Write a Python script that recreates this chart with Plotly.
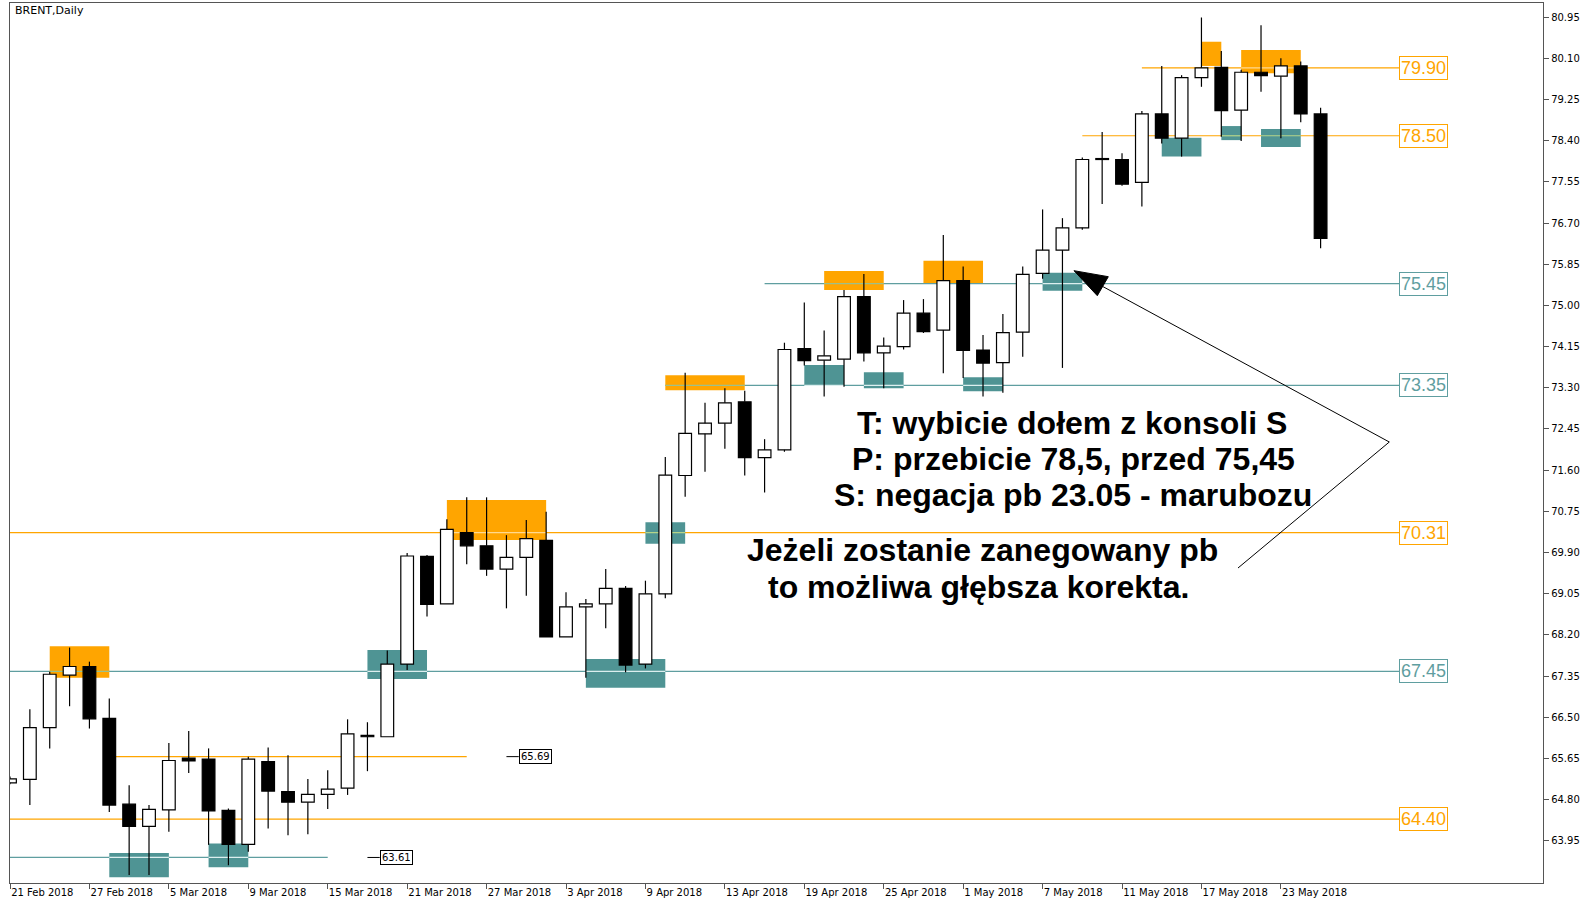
import plotly.graph_objects as go
from datetime import datetime

# ---------------- data ----------------
dates = [
    "2018-02-21", "2018-02-22", "2018-02-23", "2018-02-26", "2018-02-27", "2018-02-28",
    "2018-03-01", "2018-03-02", "2018-03-05", "2018-03-06", "2018-03-07", "2018-03-08",
    "2018-03-09", "2018-03-12", "2018-03-13", "2018-03-14", "2018-03-15", "2018-03-16",
    "2018-03-19", "2018-03-20", "2018-03-21", "2018-03-22", "2018-03-23", "2018-03-26",
    "2018-03-27", "2018-03-28", "2018-03-29", "2018-04-02", "2018-04-03", "2018-04-04",
    "2018-04-05", "2018-04-06", "2018-04-09", "2018-04-10", "2018-04-11", "2018-04-12",
    "2018-04-13", "2018-04-16", "2018-04-17", "2018-04-18", "2018-04-19", "2018-04-20",
    "2018-04-23", "2018-04-24", "2018-04-25", "2018-04-26", "2018-04-27", "2018-04-30",
    "2018-05-01", "2018-05-02", "2018-05-03", "2018-05-04", "2018-05-07", "2018-05-08",
    "2018-05-09", "2018-05-10", "2018-05-11", "2018-05-14", "2018-05-15", "2018-05-16",
    "2018-05-17", "2018-05-18", "2018-05-21", "2018-05-22", "2018-05-23", "2018-05-24",
    "2018-05-25",
]
opens = [
    65.15, 65.22, 66.29, 67.37, 67.55, 66.48, 64.71, 64.25, 64.59, 65.66, 65.64, 64.58,
    63.88, 65.59, 64.97, 64.75, 64.91, 65.04, 66.13, 66.10, 67.60, 69.82, 68.84, 70.31,
    70.04, 69.56, 69.80, 70.15, 68.16, 68.78, 68.84, 69.16, 67.60, 69.05, 71.49, 72.35,
    72.57, 73.01, 71.86, 72.02, 74.11, 73.87, 73.89, 75.18, 74.02, 74.15, 74.84, 74.49,
    75.51, 74.08, 73.82, 74.45, 75.66, 76.14, 76.60, 78.01, 78.01, 77.54, 78.95, 78.45,
    79.70, 79.91, 79.03, 79.81, 79.73, 79.94, 78.95,
]
highs = [
    65.28, 66.67, 67.44, 67.94, 67.65, 66.89, 65.10, 64.69, 65.97, 66.22, 65.86, 64.62,
    65.69, 65.88, 65.72, 65.23, 65.41, 66.46, 66.40, 67.88, 69.89, 69.85, 70.59, 71.04,
    71.04, 70.26, 70.57, 70.74, 69.08, 68.94, 69.56, 69.21, 69.32, 71.87, 73.61, 72.99,
    73.29, 73.24, 72.24, 74.23, 75.06, 74.48, 75.32, 75.65, 74.34, 75.11, 75.13, 76.45,
    75.80, 74.39, 74.82, 75.80, 76.98, 76.80, 78.05, 78.58, 78.14, 79.01, 79.94, 79.75,
    80.94, 80.25, 79.86, 80.78, 80.10, 80.03, 79.08,
]
lows = [
    65.12, 64.69, 65.86, 66.73, 66.27, 64.55, 63.25, 63.25, 64.14, 65.35, 63.87, 63.45,
    63.73, 64.21, 64.07, 64.09, 64.61, 64.90, 65.39, 66.10, 67.48, 68.58, 68.84, 69.66,
    69.42, 68.75, 69.01, 68.16, 68.16, 67.32, 68.34, 67.43, 67.51, 68.96, 71.05, 71.57,
    72.04, 71.49, 71.14, 71.98, 73.76, 73.12, 73.32, 73.84, 73.29, 74.09, 74.43, 73.60,
    73.50, 73.12, 73.20, 73.94, 75.55, 73.71, 76.56, 77.09, 77.47, 77.04, 78.34, 78.07,
    79.51, 78.48, 78.39, 79.41, 78.45, 78.78, 76.18,
]
closes = [
    65.23, 66.29, 67.39, 67.55, 66.47, 64.69, 64.25, 64.60, 65.61, 65.60, 64.57, 63.88,
    65.64, 64.98, 64.75, 64.91, 65.02, 66.16, 66.10, 67.60, 69.83, 68.83, 70.38, 70.04,
    69.56, 69.80, 70.19, 68.16, 68.78, 68.84, 69.16, 67.58, 69.05, 71.50, 72.36, 72.57,
    72.99, 71.86, 72.02, 74.09, 73.86, 73.96, 75.18, 74.02, 74.16, 74.84, 74.46, 75.51,
    74.07, 73.81, 74.44, 75.64, 76.14, 76.60, 78.01, 78.03, 77.50, 78.95, 78.45, 79.70,
    79.90, 79.02, 79.81, 79.74, 79.94, 78.95, 76.38,
]

# supply (R, orange) / demand (S, teal) zones
zone_kind = ["R", "R", "R", "R", "R", "R", "R",
             "S", "S", "S", "S", "S", "S", "S", "S", "S", "S", "S", "S"]
zone_start = ["2018-02-23", "2018-03-23", "2018-04-10", "2018-04-20", "2018-04-27", "2018-05-17", "2018-05-21",
              "2018-02-28", "2018-03-07", "2018-03-19", "2018-04-04", "2018-04-09", "2018-04-19", "2018-04-24",
              "2018-05-01", "2018-05-07", "2018-05-15", "2018-05-18", "2018-05-22"]
zone_end = ["2018-02-28", "2018-04-02", "2018-04-16", "2018-04-25", "2018-05-02", "2018-05-18", "2018-05-24",
            "2018-03-05", "2018-03-09", "2018-03-22", "2018-04-10", "2018-04-11", "2018-04-23", "2018-04-26",
            "2018-05-03", "2018-05-09", "2018-05-17", "2018-05-21", "2018-05-24"]
zone_low = [67.32, 70.16, 73.25, 75.32, 75.46, 79.94, 79.79,
            63.20, 63.41, 67.29, 67.11, 70.08, 73.34, 73.29, 73.23, 75.30, 78.07, 78.41, 78.27]
zone_high = [67.97, 70.985, 73.56, 75.71, 75.92, 80.44, 80.27,
             63.70, 63.90, 67.89, 67.705, 70.525, 73.77, 73.62, 73.52, 75.675, 78.46, 78.70, 78.64]

# labelled horizontal levels
level_price = [79.90, 78.50, 75.45, 73.35, 70.31, 67.45, 64.40]
level_kind = ["R", "R", "S", "S", "R", "S", "R"]
level_from = ["2018-05-14", "2018-05-09", "2018-04-17", "2018-04-10", None, None, None]

# short lines + price tags
tag_price = [65.69, 63.61]
tag_kind = ["R", "S"]
tag_line_from = ["2018-02-28", None]
tag_line_to = ["2018-03-26", "2018-03-15"]
tag_at = ["2018-03-28", "2018-03-19"]

y_ticks = [63.95 + 0.85 * k for k in range(21)]

# ---------------- styling ----------------
ORANGE = "#FFA500"
TEAL = "#5F9EA0"
TEAL_FILL = "#4f9494"
CROSS = {("S", "S"): "#dcefef", ("S", "R"): "#9cc08a", ("R", "S"): "#b5d48a", ("R", "R"): "#ffd98f"}
col = {"R": ORANGE, "S": TEAL}
fill = {"R": ORANGE, "S": TEAL_FILL}

n = len(dates)
idx = {d: i for i, d in enumerate(dates)}
X_LEFT, X_RIGHT = 0.0, 77.2
Y_LO, Y_HI = 63.083, 81.239
LABEL_X = 69.95
PL, PR, PT, PB = 10, 39, 3, 18
W, H = 1582, 901
PW, PH = W - PL - PR, H - PT - PB


def pxx(px):
    return (px - PL) / PW


def pxy(py):
    return (PT + PH - py) / PH


fig = go.Figure()

# wicks (split so they don't cross the bodies)
wx, wy = [], []
for i in range(n):
    o, h, l, c = opens[i], highs[i], lows[i], closes[i]
    top, bot = max(o, c), min(o, c)
    if h > top:
        wx += [i, i, None]
        wy += [h, top, None]
    if l < bot:
        wx += [i, i, None]
        wy += [bot, l, None]
fig.add_trace(go.Scatter(x=wx, y=wy, mode="lines", line=dict(color="black", width=1.2),
                         hoverinfo="skip", showlegend=False))

bull = [i for i in range(n) if closes[i] >= opens[i]]
bear = [i for i in range(n) if closes[i] < opens[i]]
for group, fc in ((bull, "white"), (bear, "black")):
    fig.add_trace(go.Bar(
        x=group,
        y=[max(abs(closes[i] - opens[i]), 0.02) for i in group],
        base=[min(opens[i], closes[i]) for i in group],
        width=0.64,
        marker=dict(color=fc, line=dict(color="black", width=1.2)),
        showlegend=False,
        hoverinfo="skip",
    ))

shapes = []
lines_all = []  # (price, x0, x1, kind)
for p, k, f in zip(level_price, level_kind, level_from):
    x0 = -1 if f is None else idx[f]
    lines_all.append((p, x0, LABEL_X, k))
for p, k, f, t in zip(tag_price, tag_kind, tag_line_from, tag_line_to):
    x0 = -1 if f is None else idx[f]
    lines_all.append((p, x0, idx[t], k))

for p, x0, x1, k in lines_all:
    shapes.append(dict(type="line", xref="x", yref="y", x0=x0, x1=x1, y0=p, y1=p,
                       line=dict(color=col[k], width=1.2), layer="below"))

zones = []
for k, s, e, lo, hi in zip(zone_kind, zone_start, zone_end, zone_low, zone_high):
    zones.append((idx[s], idx[e], lo, hi, k))
    shapes.append(dict(type="rect", xref="x", yref="y", x0=idx[s], x1=idx[e], y0=lo, y1=hi,
                       fillcolor=fill[k], line=dict(width=0), layer="below"))

# level lines showing through zones
for p, lx0, lx1, lk in lines_all:
    for zx0, zx1, lo, hi, zk in zones:
        if lo <= p <= hi and min(lx1, zx1) > max(lx0, zx0):
            shapes.append(dict(type="line", xref="x", yref="y", x0=max(lx0, zx0), x1=min(lx1, zx1),
                               y0=p, y1=p, line=dict(color=CROSS[(lk, zk)], width=1.2), layer="below"))

# price tag stubs
for p, at in zip(tag_price, tag_at):
    shapes.append(dict(type="line", xref="x", yref="y", x0=idx[at], x1=idx[at] + 0.62, y0=p, y1=p,
                       line=dict(color="black", width=1)))

# arrow polyline
p1, p2, base = (1238, 568), (1389.3, 442), (1100, 285)
shapes.append(dict(type="path", xref="paper", yref="paper",
                   path=f"M{pxx(p1[0])},{pxy(p1[1])} L{pxx(p2[0])},{pxy(p2[1])} L{pxx(base[0])},{pxy(base[1])}",
                   line=dict(color="black", width=1)))
tri = [(1074, 270.7), (1108.3, 276.7), (1097.3, 295.7)]
shapes.append(dict(type="path", xref="paper", yref="paper",
                   path="M" + " L".join(f"{pxx(a)},{pxy(b)}" for a, b in tri) + " Z",
                   fillcolor="black", line=dict(color="black", width=1)))

annotations = []
for p, k in zip(level_price, level_kind):
    annotations.append(dict(x=LABEL_X, y=p, xref="x", yref="y", text=f"{p:.2f}", showarrow=False,
                            xanchor="left", yanchor="middle",
                            font=dict(family="Liberation Sans, Arial, sans-serif", size=18, color=col[k]),
                            bordercolor=col[k], borderwidth=1, borderpad=1, bgcolor="white"))
for p, at in zip(tag_price, tag_at):
    annotations.append(dict(x=idx[at] + 0.62, y=p, xref="x", yref="y", text=f"{p:.2f}", showarrow=False,
                            xanchor="left", yanchor="middle",
                            font=dict(family="DejaVu Sans", size=10, color="black"),
                            bordercolor="black", borderwidth=1, borderpad=1, bgcolor="white"))

annotations.append(dict(x=pxx(13), y=pxy(11), xref="paper", yref="paper", text="BRENT,Daily",
                        showarrow=False, xanchor="left", yanchor="middle",
                        font=dict(family="DejaVu Sans", size=11, color="black")))

text_lines = [
    ("T: wybicie dołem z konsoli S", 1072, 423),
    ("P: przebicie 78,5, przed 75,45", 1073, 459),
    ("S: negacja pb 23.05 - marubozu", 1073, 494.5),
    ("Jeżeli zostanie zanegowany pb", 982.5, 550.5),
    ("to możliwa głębsza korekta.", 978, 587),
]
for t, cx, cy in text_lines:
    annotations.append(dict(x=pxx(cx), y=pxy(cy), xref="paper", yref="paper", text=f"<b>{t}</b>",
                            showarrow=False, xanchor="center", yanchor="middle",
                            font=dict(family="Liberation Sans, Arial, sans-serif", size=32, color="black")))

tick_idx = list(range(0, n, 4))
tick_txt = []
for i in tick_idx:
    d = datetime.strptime(dates[i], "%Y-%m-%d")
    tick_txt.append(f"{d.day} {d.strftime('%b %Y')}")

fig.update_layout(
    width=W, height=H,
    margin=dict(l=PL, r=PR, t=PT, b=PB, pad=0),
    paper_bgcolor="white", plot_bgcolor="white",
    barmode="overlay",
    showlegend=False,
    shapes=shapes,
    annotations=annotations,
    xaxis=dict(range=[X_LEFT, X_RIGHT], tickmode="array", tickvals=tick_idx, ticktext=tick_txt,
               ticks="outside", ticklen=5, tickcolor="#555555", showgrid=False, zeroline=False,
               showline=True, linecolor="#555555", linewidth=1.3, mirror=True,
               ticklabelposition="outside right", automargin=False,
               tickfont=dict(family="DejaVu Sans", size=10, color="black")),
    yaxis=dict(range=[Y_LO, Y_HI], side="right", tickmode="array", tickvals=y_ticks,
               ticktext=[f"{v:.2f}" for v in y_ticks],
               ticks="outside", ticklen=5, tickcolor="#555555", showgrid=False, zeroline=False,
               showline=True, linecolor="#555555", linewidth=1.3, mirror=True, automargin=False,
               tickfont=dict(family="DejaVu Sans", size=10, color="black")),
)

fig.write_html("out.html", config={"displayModeBar": False},
               post_script="document.body.style.margin='0';document.body.style.overflow='hidden';")
